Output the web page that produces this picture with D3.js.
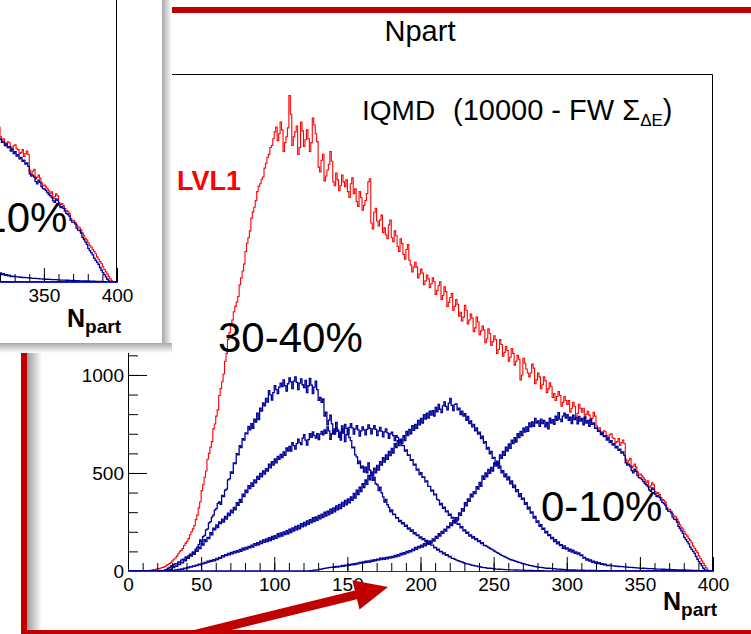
<!DOCTYPE html>
<meta charset="utf-8">
<script src="https://d3js.org/d3.v7.min.js"></script>
<style>
body { margin: 0; background: #fff; }
svg { display: block; font-family: "Liberation Sans", Arial, Helvetica, sans-serif; }
.axis text { font-size: 19px; fill: #000; }
.axis line, .axis path { stroke: #000; }
</style>
<body>
<div id="canvas"></div>
<script>

// histograms, 1 Npart per bin, each array starts at its own first bin edge
// (one row = 20 bins)
var binWidth = 1;

var lvl1Start = 12;
var lvl1 = [
  0,1,2,4,5,7,8,10,11,12,15,18,20,23,30,33,38,43,52,60,                                   // 12
  66,76,88,98,105,115,130,142,152,165,185,200,215,232,262,285,322,352,410,440,             // 32
  478,510,570,600,632,660,725,750,790,822,895,930,965,1005,1070,1110,1180,1215,1250,1280,  // 52
  1322,1350,1372,1400,1460,1495,1530,1565,1630,1672,1700,1735,1800,1832,1855,1890,1935,1962,1975,1998, // 72
  2010,2055,2080,2110,2125,2160,2170,2205,2240,2265,2195,2230,2290,2250,2140,2185,2215,2260,2425,2330, // 92
  2170,2215,2240,2270,2125,2160,2290,2245,2165,2200,2250,2205,2140,2185,2310,2275,2230,2190,2060,2035, // 112
  2095,2125,1990,2015,2045,2075,2140,2090,1985,1965,2030,1995,1940,1965,2020,1985,1960,1995,1935,1905, // 132
  1975,2005,1925,1950,1885,1860,1935,1905,1840,1865,1890,1925,1985,2000,1775,1745,1830,1850,1785,1760, // 152
  1790,1815,1725,1750,1715,1695,1765,1790,1700,1680,1735,1710,1655,1630,1695,1670,1615,1590,1640,1665, // 172
  1585,1560,1525,1550,1575,1550,1495,1515,1540,1520,1460,1480,1510,1490,1445,1465,1495,1475,1410,1430, // 192
  1455,1475,1385,1405,1450,1425,1350,1370,1395,1415,1330,1350,1385,1360,1300,1320,1275,1295,1355,1330, // 212
  1260,1280,1310,1290,1220,1240,1295,1270,1205,1225,1250,1230,1165,1185,1235,1210,1150,1170,1200,1180, // 232
  1110,1130,1180,1155,1095,1115,1145,1125,1070,1090,1135,1110,1050,1070,1100,1080,975,1000,1085,1060,  // 252
  1030,1010,990,1010,1055,1035,955,975,1010,990,930,950,990,970,910,930,960,940,885,905,               // 272
  870,890,915,895,840,860,890,870,850,870,810,830,860,840,785,805,850,830,810,830,                     // 292
  780,800,815,795,760,780,810,790,740,720,730,710,695,715,710,690,680,695,700,680,                     // 312
  675,655,660,675,640,655,668,650,570,550,565,575,525,535,545,530,505,490,495,485,                     // 332
  475,465,450,460,425,435,450,440,405,395,400,390,375,365,360,350,325,315,315,305,                     // 352
  290,282,276,266,250,236,222,214,200,186,178,166,156,144,128,116,104,94,78,64,                        // 372
  52,40,28,16,6,0];                                                                                     // 392

var c3040Start = 22;   // 30-40%
var c3040 = [
  0,0,2,5,8,14,18,26,24,34,38,36,46,44,55,60,58,72,66,78,                            // 22
  86,80,98,94,112,122,135,158,148,175,182,210,215,245,252,275,285,310,318,345,       // 42
  352,340,385,380,412,418,465,470,505,498,552,548,598,592,640,630,675,668,705,700,   // 62
  738,720,752,728,775,760,805,772,830,815,858,842,880,862,920,898,872,910,945,925,   // 82
  905,938,958,940,975,945,918,955,985,965,930,968,990,962,925,958,980,950,935,972,   // 102
  910,945,982,948,905,938,968,925,870,885,860,878,790,810,745,770,795,750,700,725,   // 122
  758,720,700,668,740,705,660,695,722,680,665,628,632,592,582,548,560,525,535,505,   // 142
  530,500,552,515,488,462,478,445,440,410,428,398,378,352,365,338,325,302,312,288,   // 162
  290,270,272,252,258,240,246,228,234,214,220,202,210,190,196,180,184,168,174,160,   // 182
  165,150,156,140,146,132,132,118,120,106,112,98,100,88,92,80,84,72,75,64,           // 202
  64,60,57,53,51,48,46,42,40,36,36,34,31,29,28,26,25,23,22,20,                       // 222
  19,17,17,15,14,14,13,12,12,10,10,9,9,8,8,7,7,7,7,6,                                // 242
  6,6,5,5,5,4,4,4,4,3,3,3,3,3,3,2,2,2,2,2,                                           // 262
  2,2,1,1,1,1,1,1,1,1,1,1,1,1,1,1,1,1,0,0];                                          // 282

var c2030Start = 24;   // 20-30%
var c2030 = [
  0,1,3,2,8,9,18,17,26,24,35,33,44,42,56,52,68,64,80,76,                             // 24
  92,85,108,100,122,114,140,132,160,150,172,165,195,185,218,210,235,222,250,242,     // 44
  265,250,278,265,295,282,310,296,325,312,348,335,365,350,392,380,412,400,435,420,   // 64
  450,432,465,450,482,468,498,480,510,494,522,510,545,526,558,540,572,552,585,570,   // 84
  595,578,608,590,628,612,635,612,655,640,622,650,672,655,645,678,695,668,642,670,   // 104
  700,682,710,690,678,700,670,698,712,695,720,702,735,715,672,700,718,698,730,712,   // 124
  682,708,725,705,748,728,700,732,752,730,698,725,742,720,688,715,735,720,695,722,   // 144
  745,728,700,725,742,722,690,715,732,712,684,710,725,705,676,700,708,690,665,690,   // 164
  682,658,668,640,640,612,618,590,592,565,568,540,545,515,520,492,502,478,480,455,   // 184
  460,432,432,408,412,388,392,365,362,338,345,320,326,302,306,284,290,270,274,252,   // 204
  256,238,240,220,226,205,210,192,198,178,184,168,175,160,165,150,155,140,145,130,   // 224
  130,126,120,116,112,108,102,98,94,90,85,80,77,73,70,66,62,58,56,54,                // 244
  51,49,46,44,41,39,37,35,33,31,29,27,26,24,23,21,20,19,18,17,                       // 264
  16,15,14,14,13,13,12,12,11,10,10,9,8,8,7,7,6,6,5,5,                                // 284
  5,5,4,4,4,4,4,4,3,3,3,3,3,3,3,3,2,2,2,2,                                           // 304
  2,2,1,1,1,1,0,0];                                                                  // 324

var c1020Start = 28;   // 10-20%
var c1020 = [
  0,1,3,2,5,4,8,7,11,9,14,12,18,16,22,20,26,24,30,28,                                // 28
  35,31,39,36,44,40,50,45,54,49,58,52,64,58,70,64,78,72,84,78,                       // 48
  90,82,95,88,100,92,104,96,110,100,116,106,120,112,126,118,132,122,140,130,         // 68
  145,134,152,140,158,146,164,150,170,155,176,162,180,166,190,174,194,178,200,186,   // 88
  206,190,214,196,220,204,228,210,232,215,242,225,248,230,255,238,262,245,272,252,   // 108
  276,258,284,266,290,272,300,280,305,286,315,294,322,302,332,312,340,318,350,330,   // 128
  360,338,368,348,378,360,396,372,412,390,428,405,446,425,465,442,488,465,505,485,   // 148
  525,500,538,515,558,540,578,555,592,570,610,588,625,602,650,630,665,640,672,650,   // 168
  690,665,712,690,722,700,742,718,748,728,768,745,778,755,798,775,805,780,815,795,   // 188
  818,790,835,812,850,825,808,842,862,840,822,856,880,845,818,850,852,822,830,798,   // 208
  815,790,802,768,788,752,765,735,748,715,730,698,708,675,688,652,660,622,630,598,   // 228
  610,575,580,545,552,525,535,500,512,480,495,465,480,445,460,425,438,405,415,380,   // 248
  395,365,372,340,348,316,326,295,302,270,278,248,255,228,236,212,218,195,202,180,   // 268
  185,165,172,150,160,138,148,130,135,115,128,112,118,102,112,96,106,90,98,86,       // 288
  92,78,82,66,70,56,62,50,56,44,50,40,46,38,43,34,38,31,35,28,                       // 308
  30,28,28,26,26,24,25,23,23,22,22,21,21,20,19,18,18,17,17,16,                       // 328
  16,15,15,14,14,13,13,12,12,12,12,11,11,10,10,10,10,9,9,8,                          // 348
  8,8,8,7,7,7,6,6,6,5,5,5,5,4,4,4,4,3,3,3,                                           // 368
  3,3,2,2,2,2,1,1,0,0];                                                              // 388

var c010Start = 120;   // 0-10%
var c010 = [
  0,0,1,1,2,2,3,4,5,6,7,9,10,12,13,15,16,17,18,19,                                   // 120
  22,18,24,20,25,22,28,24,30,26,32,29,35,31,37,33,40,37,44,40,                       // 140
  47,42,50,44,52,46,55,49,58,52,61,55,65,58,67,60,70,62,72,66,                       // 160
  75,68,80,72,84,76,90,82,94,86,100,92,104,98,112,104,120,110,125,118,               // 180
  132,122,140,128,146,136,154,142,164,152,176,166,190,178,202,192,214,204,228,220,   // 200
  245,232,258,244,272,260,296,284,318,306,348,332,368,355,392,378,405,395,430,418,   // 220
  452,432,485,468,500,480,518,498,528,510,552,535,560,540,592,575,610,590,632,612,   // 240
  648,625,668,650,680,658,700,680,712,690,728,708,735,712,756,735,760,738,778,755,   // 260
  765,738,775,752,768,735,758,725,780,755,772,748,790,768,808,775,762,790,805,780,   // 280
  798,768,785,752,795,772,782,750,788,765,778,745,785,755,768,738,775,748,755,728,   // 300
  730,712,715,696,705,685,690,668,678,655,665,642,650,628,636,615,622,602,608,590,   // 320
  552,540,545,535,512,500,520,508,486,476,474,466,456,446,440,430,414,406,424,416,   // 340
  392,380,384,376,362,350,344,336,315,305,304,296,275,265,262,250,228,216,205,192,   // 360
  172,160,150,138,122,110,100,90,74,60,48,38,26,14,6,2,0,0];                         // 380

var xTicks = [0, 50, 100, 150, 200, 250, 300, 350, 400];
var yTicks = [0, 500, 1000, 1500, 2000, 2500];

var W = 751, H = 634;
var svg = d3.select("#canvas").append("svg")
    .attr("width", W).attr("height", H);

var defs = svg.append("defs");
function grad(id, x2, y2, c0, c1) {
  var g = defs.append("linearGradient").attr("id", id)
      .attr("x1", 0).attr("y1", 0).attr("x2", x2).attr("y2", y2);
  g.append("stop").attr("offset", 0).attr("stop-color", c0);
  g.append("stop").attr("offset", 1).attr("stop-color", c1);
}
grad("padShadow", 1, 0, "#9c9c9c", "#ffffff");
grad("insetShadowR", 1, 0, "#a8a8a8", "#ffffff");
grad("insetShadowB", 0, 1, "#a8a8a8", "#ffffff");
defs.append("clipPath").attr("id", "insetClip")
  .append("rect").attr("x", 0).attr("y", 0).attr("width", 162).attr("height", 343);

// scales (main plot)
var x = d3.scaleLinear().domain([0, 400]).range([128, 713]);
var y = d3.scaleLinear().domain([0, 2535]).range([571, 74]);

function stepPoints(start, vals) {
  var end = start + vals.length * binWidth;
  var pts = [[0, 0], [start, 0]];
  vals.forEach(function(v, i) { pts.push([start + i * binWidth, v]); });
  pts.push([end, vals[vals.length - 1]]);
  pts.push([end, 0]);
  pts.push([400, 0]);
  return pts;
}
var line = d3.line()
    .x(function(d) { return x(d[0]); })
    .y(function(d) { return y(d[1]); })
    .curve(d3.curveStepAfter);

var series = [
  {start: lvl1Start, vals: lvl1, color: "#ff0000", w: 1.1},
  {start: c3040Start, vals: c3040, color: "#000099", w: 1.3},
  {start: c2030Start, vals: c2030, color: "#000099", w: 1.3},
  {start: c1020Start, vals: c1020, color: "#000099", w: 1.3},
  {start: c010Start, vals: c010, color: "#000099", w: 1.3}
];

// one full ROOT figure, the inset is the same kind of figure shifted
function drawFigure(g, o) {
  // frame
  g.append("path")
    .attr("d", "M128.5,74.5H712.5V571.5")
    .attr("fill", "none").attr("stroke", "#000").attr("stroke-width", 1);

  series.forEach(function(s) {
    g.append("path")
      .attr("d", line(stepPoints(s.start, s.vals)))
      .attr("fill", "none")
      .attr("stroke", s.color)
      .attr("stroke-width", s.w);
  });

  // y axis, ticks point into the frame
  g.append("g").attr("class", "axis")
    .attr("transform", "translate(128,0)")
    .call(d3.axisLeft(y).tickValues(d3.range(0, 2501, 100)).tickSize(-10).tickSizeOuter(0).tickFormat(""));
  g.append("g").attr("class", "axis")
    .attr("transform", "translate(128,0)")
    .call(d3.axisLeft(y).tickValues(yTicks).tickSize(-19).tickSizeOuter(0).tickPadding(4)
      .tickFormat(d3.format("d")));

  // x axis
  g.append("g").attr("class", "axis")
    .attr("transform", "translate(0,571)")
    .call(d3.axisBottom(x).tickValues(d3.range(0, 401, 10)).tickSize(-8).tickSizeOuter(0).tickFormat(""));
  g.append("g").attr("class", "axis")
    .attr("transform", "translate(0,571)")
    .call(d3.axisBottom(x).tickValues(xTicks).tickSize(-14).tickSizeOuter(0).tickPadding(7)
      .tickFormat(d3.format("d")));

  // blue zero line over the axis
  g.append("line")
    .attr("x1", x(0)).attr("x2", x(400))
    .attr("y1", y(0) + 0.5).attr("y2", y(0) + 0.5)
    .attr("stroke", "#2222cc").attr("stroke-width", 1.2);

  // axis title N_part
  var t = g.append("text")
    .attr("x", 663).attr("y", o.titleY)
    .style("font-weight", "bold").style("font-size", "25px");
  t.append("tspan").text("N");
  t.append("tspan").attr("dy", 6).style("font-size", "19px").text("part");

  // histogram title
  g.append("text")
    .attr("x", 420).attr("y", 41)
    .attr("text-anchor", "middle")
    .style("font-size", "29px")
    .text("Npart");

  var iq = g.append("text")
    .attr("x", 362).attr("y", 120)
    .style("font-size", "28px");
  iq.append("tspan").text("IQMD");
  iq.append("tspan").attr("x", 453).style("font-size", "29px").text("(10000 - FW \u03A3");
  iq.append("tspan").attr("dy", 6).style("font-size", "17px").text("\u0394E");
  iq.append("tspan").attr("dy", -6).style("font-size", "29px").text(")");

  g.append("text")
    .attr("x", 177).attr("y", 190)
    .style("font-size", "27px").style("font-weight", "bold")
    .attr("fill", "#ff0000")
    .text("LVL1");

  g.append("text")
    .attr("x", 218).attr("y", 352)
    .style("font-size", "42px")
    .text("30-40%");

  g.append("text")
    .attr("x", o.labelX).attr("y", 521)
    .style("font-size", "42px")
    .text("0-10%");
}

// slide background
svg.append("rect").attr("width", W).attr("height", H).attr("fill", "#fff");
svg.append("rect").attr("x", 27).attr("y", 10).attr("width", 15).attr("height", 620)
  .attr("fill", "url(#padShadow)");

// red frame of the slide
svg.append("rect")
  .attr("x", 24).attr("y", 10).attr("width", 800).attr("height", 623)
  .attr("fill", "none").attr("stroke", "#c00000").attr("stroke-width", 6);

drawFigure(svg.append("g"), {labelX: 541, titleY: 610});

// inset copy in the corner
svg.append("rect").attr("x", 162).attr("y", 0).attr("width", 10).attr("height", 353)
  .attr("fill", "url(#insetShadowR)");
svg.append("rect").attr("x", 0).attr("y", 343).attr("width", 172).attr("height", 10)
  .attr("fill", "url(#insetShadowB)");
var inset = svg.append("g").attr("clip-path", "url(#insetClip)");
inset.append("rect").attr("width", 162).attr("height", 343).attr("fill", "#fff");
drawFigure(inset.append("g").attr("transform", "translate(-596,-289)"), {labelX: 542, titleY: 616});

// red arrow
var tip = [388, 587], tail = [180, 638];
var dx = tip[0] - tail[0], dy = tip[1] - tail[1], len = Math.sqrt(dx * dx + dy * dy);
var ux = dx / len, uy = dy / len, nx = -uy, ny = ux;
var headL = 33, headW = 15, shaftW = 4.5;
var bx = tip[0] - headL * ux, by = tip[1] - headL * uy;
var arrowPts = [
  [tail[0] + nx * shaftW, tail[1] + ny * shaftW],
  [bx + nx * shaftW, by + ny * shaftW],
  [bx + nx * headW, by + ny * headW],
  tip,
  [bx - nx * headW, by - ny * headW],
  [bx - nx * shaftW, by - ny * shaftW],
  [tail[0] - nx * shaftW, tail[1] - ny * shaftW]
];
svg.append("polygon")
  .attr("points", arrowPts.map(function(p) { return p.join(","); }).join(" "))
  .attr("fill", "#c00000");

</script>
</body>
